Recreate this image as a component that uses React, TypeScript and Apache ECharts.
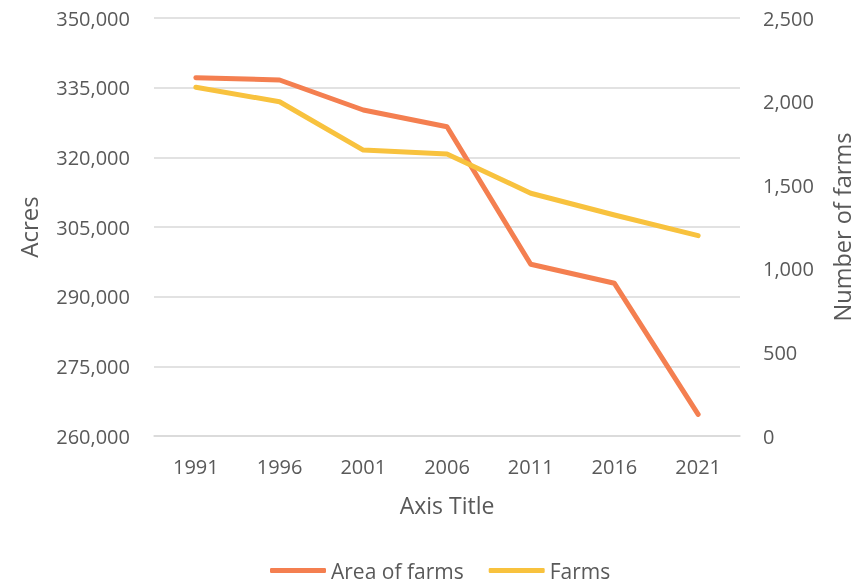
import React, { useEffect, useRef } from "react";
import * as echarts from "echarts";

const years = ["1991", "1996", "2001", "2006", "2011", "2016", "2021"];
const areaOfFarms = [337150, 336650, 330190, 326600, 296970, 292880, 264670];
const farms = [2086, 1999, 1710, 1687, 1452, 1322, 1198];

const FONT = "Open Sans";
const TEXT = "#595959";

const fmt = (v: number) => v.toLocaleString("en-US");

export default function App() {
  const ref = useRef<HTMLDivElement>(null);
  useEffect(() => {
    document.body.style.margin = "0";
    const chart = echarts.init(ref.current!, null, { renderer: "svg" });
    chart.setOption({
      animation: false,
      textStyle: { fontFamily: FONT },
      grid: { left: 154, right: 127, top: 18, bottom: 152 },
      legend: {
        left: 265,
        top: 555,
        icon: "roundRect",
        itemWidth: 56,
        itemHeight: 5,
        itemGap: 25,
        textStyle: { fontFamily: FONT, fontSize: 21, color: TEXT },
        data: ["Area of farms", "Farms"],
      },
      xAxis: {
        type: "category",
        data: years,
        boundaryGap: true,
        name: "Axis Title",
        nameLocation: "middle",
        nameGap: 57,
        nameTextStyle: { fontFamily: FONT, fontSize: 23, color: TEXT },
        axisLine: { show: true, lineStyle: { color: "#d9d9d9", width: 1.5 } },
        axisTick: { show: false },
        axisLabel: { fontFamily: FONT, fontSize: 20, color: TEXT, margin: 20 },
      },
      yAxis: [
        {
          type: "value",
          min: 260000,
          max: 350000,
          interval: 15000,
          name: "Acres",
          nameLocation: "middle",
          nameRotate: 90,
          nameGap: 114,
          nameTextStyle: { fontFamily: FONT, fontSize: 24, color: TEXT },
          axisLine: { show: false },
          axisTick: { show: false },
          splitLine: { lineStyle: { color: "#d9d9d9", width: 1.5 } },
          axisLabel: { fontFamily: FONT, fontSize: 20, color: TEXT, margin: 24, formatter: fmt },
        },
        {
          type: "value",
          min: 0,
          max: 2500,
          interval: 500,
          position: "right",
          name: "Number of farms",
          nameLocation: "middle",
          nameRotate: 90,
          nameGap: 90,
          nameTextStyle: { fontFamily: FONT, fontSize: 23.5, color: TEXT },
          axisLine: { show: false },
          axisTick: { show: false },
          splitLine: { show: false },
          axisLabel: { fontFamily: FONT, fontSize: 20, color: TEXT, margin: 23, formatter: fmt },
        },
      ],
      series: [
        {
          name: "Area of farms",
          type: "line",
          data: areaOfFarms,
          yAxisIndex: 0,
          showSymbol: false,
          symbol: "none",
          color: "#F47F50",
          lineStyle: { width: 5, color: "#F47F50", cap: "round", join: "round" },
        },
        {
          name: "Farms",
          type: "line",
          data: farms,
          yAxisIndex: 1,
          showSymbol: false,
          symbol: "none",
          color: "#F8C23E",
          lineStyle: { width: 5, color: "#F8C23E", cap: "round", join: "round" },
        },
      ],
    });
    return () => chart.dispose();
  }, []);
  return <div ref={ref} style={{ width: 867, height: 588, position: "fixed", left: 0, top: 0 }} />;
}
